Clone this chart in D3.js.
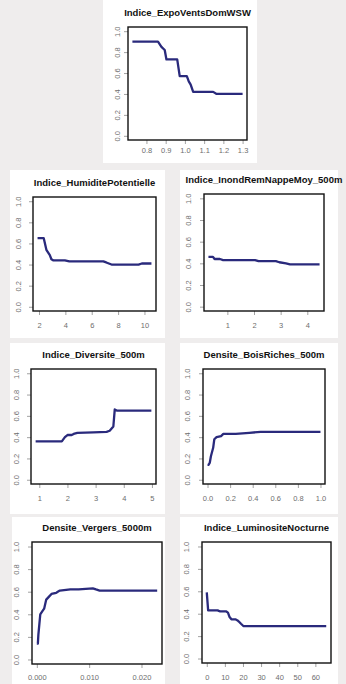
<!DOCTYPE html>
<html>
<head>
<meta charset="utf-8">
<script src="https://cdn.jsdelivr.net/npm/d3@7"></script>
<style>
  html, body { margin: 0; padding: 0; background: #efeded; }
  svg { display: block; }
</style>
</head>
<body>
<div id="chart"></div>
<script>
// partial dependence curves
const titles = [
  "Indice_ExpoVentsDomWSW",
  "Indice_HumiditePotentielle",
  "Indice_InondRemNappeMoy_500m",
  "Indice_Diversite_500m",
  "Densite_BoisRiches_500m",
  "Densite_Vergers_5000m",
  "Indice_LuminositeNocturne"
];

const expoX = [0.727, 0.86, 0.878, 0.895, 0.904, 0.96, 0.973, 1.01, 1.02, 1.03, 1.043, 1.147, 1.165, 1.30];
const expoY = [0.90, 0.90, 0.85, 0.82, 0.73, 0.73, 0.57, 0.57, 0.52, 0.49, 0.42, 0.42, 0.40, 0.40];

const humX = [1.89, 2.36, 2.56, 2.82, 2.94, 3.07, 3.96, 4.3, 6.88, 7.1, 7.5, 9.55, 9.8, 10.53];
const humY = [0.65, 0.65, 0.54, 0.49, 0.45, 0.44, 0.44, 0.43, 0.43, 0.42, 0.40, 0.40, 0.41, 0.41];

const inondX = [0.29, 0.46, 0.52, 0.72, 0.84, 2.04, 2.17, 2.82, 2.95, 3.2, 3.35, 4.46];
const inondY = [0.46, 0.46, 0.44, 0.44, 0.43, 0.43, 0.42, 0.42, 0.41, 0.40, 0.39, 0.39];

const diverX = [0.87, 1.8, 1.91, 2.0, 2.15, 2.22, 2.35, 2.92, 3.39, 3.5, 3.63, 3.68, 3.75, 4.98];
const diverY = [0.36, 0.36, 0.40, 0.42, 0.42, 0.43, 0.44, 0.445, 0.45, 0.46, 0.50, 0.66, 0.65, 0.65];

const boisX = [0.0, 0.01, 0.02, 0.03, 0.05, 0.06, 0.08, 0.12, 0.14, 0.25, 0.37, 0.47, 1.0];
const boisY = [0.14, 0.14, 0.16, 0.22, 0.30, 0.38, 0.40, 0.41, 0.43, 0.43, 0.44, 0.45, 0.45];

const vergX = [0.0, 0.0002, 0.0003, 0.00066, 0.0011, 0.0014, 0.0018, 0.0022, 0.0028, 0.0037, 0.004, 0.0044, 0.0064, 0.008, 0.0107, 0.0113, 0.012, 0.023];
const vergY = [0.14, 0.14, 0.22, 0.40, 0.43, 0.45, 0.53, 0.55, 0.58, 0.59, 0.60, 0.61, 0.62, 0.62, 0.63, 0.62, 0.61, 0.61];

const lumX = [0, 0.75, 6.0, 7.4, 10.8, 11.7, 12.6, 13.6, 15.8, 17, 17.7, 18.9, 20.2, 66];
const lumY = [0.59, 0.43, 0.43, 0.42, 0.42, 0.41, 0.37, 0.35, 0.35, 0.34, 0.33, 0.31, 0.29, 0.29];

const seriesX = [expoX, humX, inondX, diverX, boisX, vergX, lumX];
const seriesY = [expoY, humY, inondY, diverY, boisY, vergY, lumY];

const xTicks = [
  [0.8, 0.9, 1.0, 1.1, 1.2, 1.3],
  [2, 4, 6, 8, 10],
  [1, 2, 3, 4],
  [1, 2, 3, 4, 5],
  [0, 0.2, 0.4, 0.6, 0.8, 1.0],
  [0, 0.01, 0.02],
  [0, 10, 20, 30, 40, 50, 60]
];
const xFormats = [".1f", "d", "d", "d", ".1f", ".3f", "d"];
const yTicks = [0, 0.2, 0.4, 0.6, 0.8, 1.0];

// layout: card rectangle, plot box, and label offsets [x label drop, y label gap]
const cards = [
  [103, 0, 154, 163],
  [10, 170, 155, 168],
  [180, 170, 158, 168],
  [10, 343, 155, 171],
  [180, 343, 158, 171],
  [12, 517, 153, 167],
  [180, 517, 158, 167]
];
const boxes = [
  [128, 27, 247, 140],
  [33, 197, 156, 311],
  [204, 194, 324, 311],
  [31, 369, 156, 484],
  [203, 369, 325, 484],
  [32, 542, 162, 664],
  [202, 542, 331, 663]
];
const labelOffsets = [
  [8, 8],
  [12, 12],
  [12, 13],
  [12, 12],
  [12, 13],
  [11, 13],
  [12, 13]
];

const W = 346, H = 684;
const svg = d3.select("#chart").append("svg")
  .attr("width", W)
  .attr("height", H);

svg.append("rect").attr("width", W).attr("height", H).attr("fill", "#efeded");

// R style range: data extent padded by 4% on each side
function rRange(ext) {
  const d = ext[1] - ext[0];
  return [ext[0] - 0.04 * d, ext[1] + 0.04 * d];
}

titles.forEach((title, i) => {
  const c = cards[i];
  const [x0, y0, x1, y1] = boxes[i];
  const [dropX, gapY] = labelOffsets[i];

  svg.append("rect")
    .attr("x", c[0]).attr("y", c[1])
    .attr("width", c[2]).attr("height", c[3])
    .attr("fill", "#ffffff");

  const data = seriesX[i].map((x, k) => ({x: x, y: seriesY[i][k]}));

  const xScale = d3.scaleLinear()
    .domain(rRange(d3.extent(data, d => d.x)))
    .range([x0, x1]);
  const yScale = d3.scaleLinear()
    .domain(rRange([0, 1]))
    .range([y1, y0]);

  const g = svg.append("g").attr("class", "panel");

  // axes
  const bottomAxis = d3.axisBottom(xScale)
    .tickValues(xTicks[i])
    .tickFormat(d3.format(xFormats[i]))
    .tickSize(4).tickPadding(dropX - 4);
  const leftAxis = d3.axisLeft(yScale)
    .tickValues(yTicks)
    .tickFormat(d3.format(".1f"))
    .tickSize(4);

  const xg = g.append("g")
    .attr("transform", "translate(0," + y1 + ")")
    .call(bottomAxis);
  const yg = g.append("g")
    .attr("transform", "translate(" + x0 + ",0)")
    .call(leftAxis);

  [xg, yg].forEach(a => {
    a.select(".domain").remove();
    a.selectAll(".tick line").attr("stroke", "#8a8a8a").attr("stroke-width", 0.8);
    a.selectAll(".tick text")
      .attr("fill", "#6e6e6e")
      .style("font-family", "'Liberation Sans', Arial, sans-serif")
      .style("font-size", "7.5px");
  });
  yg.selectAll(".tick text")
    .attr("x", null).attr("dy", null)
    .attr("text-anchor", "middle")
    .attr("transform", "translate(" + (-gapY) + ",0) rotate(-90)");

  // curve
  g.append("path")
    .datum(data)
    .attr("fill", "none")
    .attr("stroke", "#2a2a7c")
    .attr("stroke-width", 2.3)
    .attr("stroke-linejoin", "round")
    .attr("d", d3.line().x(d => xScale(d.x)).y(d => yScale(d.y)));

  // box
  g.append("rect")
    .attr("x", x0).attr("y", y0)
    .attr("width", x1 - x0).attr("height", y1 - y0)
    .attr("fill", "none")
    .attr("stroke", "#111")
    .attr("stroke-width", 1.4);

  // title
  g.append("text")
    .attr("x", (x0 + x1) / 2)
    .attr("y", y0 - 11)
    .attr("text-anchor", "middle")
    .style("font-family", "'Liberation Sans', Arial, sans-serif")
    .style("font-weight", "bold")
    .style("font-size", "9.5px")
    .attr("fill", "#111")
    .text(title);
});
</script>
</body>
</html>
